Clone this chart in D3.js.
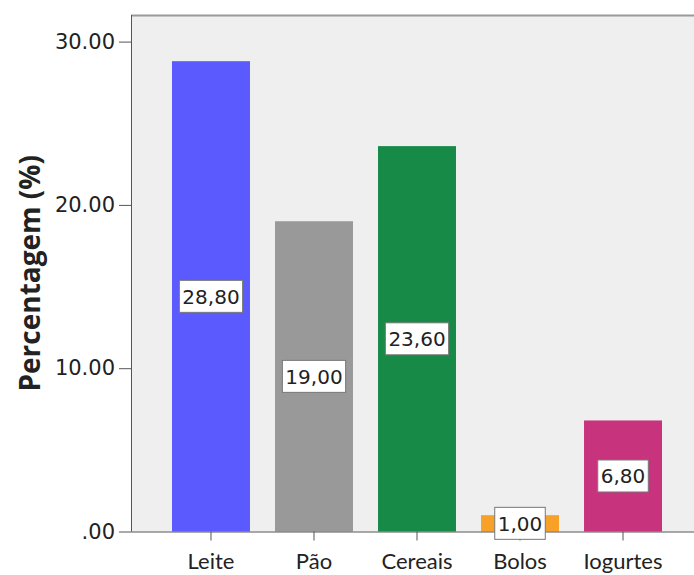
<!DOCTYPE html>
<html><head><meta charset="utf-8">
<script src="https://cdn.jsdelivr.net/npm/d3@7"></script>
<style>body{margin:0;background:#fff;overflow:hidden}svg{display:block}</style>
</head><body>
<script>
const categories = ["Leite", "Pão", "Cereais", "Bolos", "Iogurtes"];
const values = [28.8, 19.0, 23.6, 1.0, 6.8];
const valueLabels = ["28,80", "19,00", "23,60", "1,00", "6,80"];
const colors = ["#5a5aff", "#999999", "#178a48", "#f7a128", "#c7337c"];
const yTicks = [0, 10, 20, 30];
const yTickLabels = [".00", "10.00", "20.00", "30.00"];

const W = 694, H = 575;
const mLeft = 131, mTop = 15, mBottom = 531.5, mRight = 703;
const svg = d3.select("body").append("svg").attr("width", W).attr("height", H);

const y = d3.scaleLinear().domain([0, 30]).range([mBottom, mBottom - 30 * 16.33]);
const x = d3.scaleBand().domain(categories).range([mLeft, mRight]).paddingInner(0.243).paddingOuter(0.398);

svg.append("rect").attr("x", mLeft).attr("y", mTop).attr("width", mRight - mLeft).attr("height", mBottom - mTop).attr("fill", "#efefef");
svg.append("line").attr("x1", mLeft).attr("x2", mRight).attr("y1", mTop + 0.5).attr("y2", mTop + 0.5).attr("stroke", "#9a9a9a").attr("stroke-width", 2);

svg.selectAll("rect.bar").data(values).enter().append("rect").attr("class", "bar")
  .attr("x", (d, i) => x(categories[i]))
  .attr("width", x.bandwidth())
  .attr("y", d => y(d))
  .attr("height", d => y(0) - y(d))
  .attr("fill", (d, i) => colors[i]);

// y axis
const yAxis = d3.axisLeft(y).tickValues(yTicks).tickFormat((d, i) => yTickLabels[i]).tickSize(12).tickPadding(4);
const gy = svg.append("g").attr("transform", `translate(${mLeft},0)`).call(yAxis);
gy.select(".domain").attr("stroke", "#555").attr("d", `M0.5,${mTop}V${mBottom}`);
gy.selectAll(".tick line").attr("stroke", "#555");
gy.selectAll(".tick text").attr("font-family", "DejaVu Sans, Verdana, sans-serif").attr("font-size", 21).attr("fill", "#222");

// x axis
const xAxis = d3.axisBottom(x).tickSize(9).tickPadding(13);
const gx = svg.append("g").attr("transform", `translate(0,${mBottom})`).call(xAxis);
gx.select(".domain").attr("stroke", "#555").attr("d", `M${mLeft},0.5H${mRight}`);
gx.selectAll(".tick line").attr("stroke", "#555");
gx.selectAll(".tick text").attr("font-family", "Lato, Open Sans, sans-serif").attr("font-size", 22).attr("fill", "#222");

// value labels
const lab = svg.selectAll("g.lab").data(values).enter().append("g").attr("class", "lab")
  .attr("transform", (d, i) => `translate(${x(categories[i]) + x.bandwidth() / 2},${y(d / 2)})`);
lab.append("text").text((d, i) => valueLabels[i])
  .attr("text-anchor", "middle").attr("dy", "0.36em")
  .attr("font-family", "DejaVu Sans, Verdana, sans-serif").attr("font-size", 20).attr("fill", "#222");
lab.each(function() {
  const g = d3.select(this);
  const b = g.select("text").node().getBBox();
  g.insert("rect", "text").attr("x", b.x - 3).attr("y", -16).attr("width", b.width + 6).attr("height", 32)
    .attr("fill", "#fff").attr("stroke", "#777").attr("stroke-width", 1);
});

// y title
svg.append("text").attr("transform", `translate(40,${(mTop + mBottom) / 2}) rotate(-90)`)
  .attr("text-anchor", "middle").attr("font-family", "Open Sans, Lato, sans-serif")
  .attr("font-weight", "bold").attr("font-size", 28).attr("fill", "#222").text("Percentagem (%)");
</script>
</body></html>
